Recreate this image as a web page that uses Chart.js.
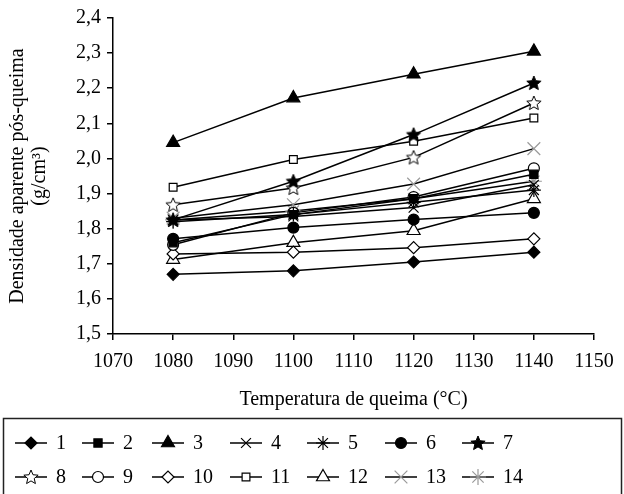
<!DOCTYPE html>
<html>
<head>
<meta charset="utf-8">
<script src="https://cdn.jsdelivr.net/npm/chart.js@4"></script>
<style>
  body { margin: 0; background: #fff; }
  canvas { display: block; }
</style>
</head>
<body>
<canvas id="grafico" width="624" height="494"></canvas>
<script>
// temperaturas de queima (eixo x)
const temperaturas = [1080, 1100, 1120, 1140];

// densidade aparente pós-queima por formulação
const serie1 = [1.670, 1.680, 1.705, 1.733];
const serie2 = [1.760, 1.840, 1.885, 1.955];
const serie3 = [2.045, 2.172, 2.240, 2.305];
const serie4 = [1.825, 1.835, 1.860, 1.925];
const serie5 = [1.820, 1.840, 1.875, 1.910];
const serie6 = [1.771, 1.803, 1.826, 1.845];
const serie7 = [1.825, 1.935, 2.068, 2.215];
const serie8 = [1.868, 1.916, 2.003, 2.158];
const serie9 = [1.754, 1.845, 1.890, 1.972];
const serie10 = [1.728, 1.733, 1.746, 1.771];
const serie11 = [1.918, 1.997, 2.049, 2.115];
const serie12 = [1.712, 1.760, 1.794, 1.885];
const serie13 = [1.830, 1.868, 1.927, 2.028];
const serie14 = [1.825, 1.850, 1.885, 1.935];

const rotulos = ["1", "2", "3", "4", "5", "6", "7", "8", "9", "10", "11", "12", "13", "14"];
const series = [serie1, serie2, serie3, serie4, serie5, serie6, serie7,
                serie8, serie9, serie10, serie11, serie12, serie13, serie14];

const ticksX = [1070, 1080, 1090, 1100, 1110, 1120, 1130, 1140, 1150];
const ticksY = [1.5, 1.6, 1.7, 1.8, 1.9, 2.0, 2.1, 2.2, 2.3, 2.4];

const FONTE = "'Liberation Serif', 'Times New Roman', serif";
const CINZA = "#9a9a9a";

// estrela de 5 pontas desenhada num canvas pequeno
function criarEstrela(cheia) {
  const R = 7.5, r = 3.4, tam = 18;
  const c = document.createElement("canvas");
  c.width = tam; c.height = tam;
  const ctx = c.getContext("2d");
  ctx.beginPath();
  for (let i = 0; i < 10; i++) {
    const raio = i % 2 === 0 ? R : r;
    const ang = -Math.PI / 2 + i * Math.PI / 5;
    const px = tam / 2 + raio * Math.cos(ang);
    const py = tam / 2 + 0.5 + raio * Math.sin(ang);
    if (i === 0) ctx.moveTo(px, py); else ctx.lineTo(px, py);
  }
  ctx.closePath();
  ctx.fillStyle = cheia ? "#000" : "#fff";
  ctx.fill();
  ctx.lineWidth = 1;
  ctx.strokeStyle = "#000";
  ctx.stroke();
  return c;
}

const estrelaCheia = criarEstrela(true);
const estrelaVazia = criarEstrela(false);

// estilo dos marcadores: [pointStyle, raio, preenchimento, borda]
const marcadores = [
  ["rectRot", 6, "#000", "#000"],
  ["rect", 5.8, "#000", "#000"],
  ["triangle", 7.5, "#000", "#000"],
  ["crossRot", 7, "#000", "#000"],
  ["star", 7, "#000", "#000"],
  ["circle", 5.5, "#000", "#000"],
  [estrelaCheia, 7, "#000", "#000"],
  [estrelaVazia, 7, "#fff", "#000"],
  ["circle", 5.5, "#fff", "#000"],
  ["rectRot", 6, "#fff", "#000"],
  ["rect", 5.5, "#fff", "#000"],
  ["triangle", 7.5, "#fff", "#000"],
  ["crossRot", 9, CINZA, CINZA],
  ["star", 8, CINZA, CINZA]
];

const datasets = series.map((s, i) => ({
  label: rotulos[i],
  data: temperaturas.map((t, j) => ({ x: t, y: s[j] })),
  borderColor: "#000",
  borderWidth: 1.5,
  pointStyle: marcadores[i][0],
  pointRadius: marcadores[i][1],
  pointBackgroundColor: marcadores[i][2],
  pointBorderColor: marcadores[i][3],
  pointBorderWidth: 1.2,
  tension: 0
}));

// legenda com linha + marcador dentro de uma caixa
const legendaCaixa = {
  id: "legendaCaixa",
  afterDraw(chart) {
    const ctx = chart.ctx;
    const colunas = [15, 82, 152, 230, 307, 385, 462];
    const linhas = [443, 477];
    ctx.save();
    ctx.lineWidth = 1.5;
    ctx.strokeStyle = "#222";
    ctx.strokeRect(3.5, 418.5, 618, 90);
    ctx.font = "20px " + FONTE;
    ctx.textBaseline = "middle";
    ctx.fillStyle = "#000";
    rotulos.forEach((rot, i) => {
      const x0 = colunas[i % 7];
      const y0 = linhas[Math.floor(i / 7)];
      ctx.lineWidth = 1.5;
      ctx.strokeStyle = "#000";
      ctx.beginPath();
      ctx.moveTo(x0, y0);
      ctx.lineTo(x0 + 32, y0);
      ctx.stroke();
      const m = marcadores[i];
      ctx.fillStyle = m[2];
      ctx.strokeStyle = m[3];
      ctx.lineWidth = 1.2;
      Chart.helpers.drawPoint(ctx, {
        pointStyle: m[0], radius: m[1], rotation: 0, borderWidth: 1.2
      }, x0 + 16, y0);
      ctx.fillStyle = "#000";
      ctx.fillText(rot, x0 + 41, y0 + 1);
    });
    ctx.restore();
  }
};

new Chart(document.getElementById("grafico"), {
  type: "line",
  data: { datasets: datasets },
  options: {
    responsive: false,
    animation: false,
    layout: { padding: { top: 18, right: 30, bottom: 82, left: 7 } },
    plugins: {
      legend: { display: false },
      tooltip: { enabled: false }
    },
    scales: {
      x: {
        type: "linear",
        min: 1070,
        max: 1150,
        afterBuildTicks: (escala) => { escala.ticks = ticksX.map(v => ({ value: v })); },
        afterFit: (escala) => { escala.height = 78; },
        ticks: {
          color: "#000",
          font: { family: FONTE, size: 20 },
          padding: 10,
          maxRotation: 0,
          callback: (v) => String(v)
        },
        grid: { drawOnChartArea: false, drawTicks: true, tickLength: 6, color: "#000", lineWidth: 1.5 },
        border: { display: true, color: "#000", width: 1.5 },
        title: {
          display: true,
          text: "Temperatura de queima (°C)",
          color: "#000",
          font: { family: FONTE, size: 20 },
          padding: { top: 3, bottom: 0 }
        }
      },
      y: {
        type: "linear",
        min: 1.5,
        max: 2.4,
        afterBuildTicks: (escala) => { escala.ticks = ticksY.map(v => ({ value: v })); },
        afterFit: (escala) => { escala.width = 106; },
        ticks: {
          color: "#000",
          font: { family: FONTE, size: 20 },
          padding: 6,
          callback: (v) => v.toFixed(1).replace(".", ",")
        },
        grid: { drawOnChartArea: false, drawTicks: true, tickLength: 6, color: "#000", lineWidth: 1.5 },
        border: { display: true, color: "#000", width: 1.5 },
        title: {
          display: true,
          text: ["Densidade aparente pós-queima", "(g/cm³)"],
          color: "#000",
          font: { family: FONTE, size: 20, lineHeight: 1.1 },
          padding: { top: 0, bottom: 4 }
        }
      }
    }
  },
  plugins: [legendaCaixa]
});
</script>
</body>
</html>
